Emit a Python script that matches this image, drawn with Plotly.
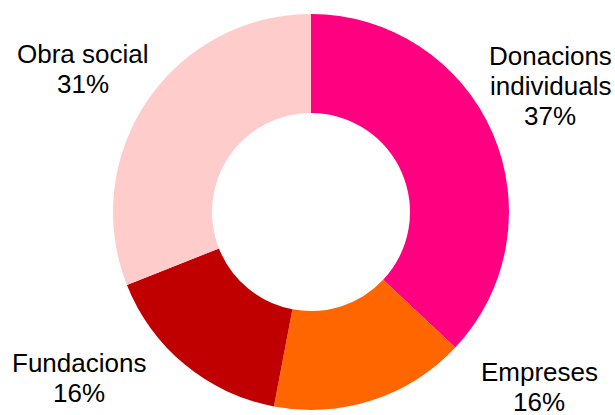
import plotly.graph_objects as go

# Data
labels = ["Donacions individuals", "Empreses", "Fundacions", "Obra social"]
label_lines = [["Donacions", "individuals"], ["Empreses"], ["Fundacions"], ["Obra social"]]
values = [37, 16, 16, 31]
colors = ["#FF0080", "#FF6600", "#C00000", "#FFCCCC"]

W, H = 615, 415


def px(x):
    return x / W


def py(y):
    return 1 - y / H


# center of first text line of each label (pixels) and line step
label_pos = [(550, 56), (539, 372), (79, 363), (83, 54)]
step = 30

fig = go.Figure()

cx, cy, r = 311, 212, 198
fig.add_trace(go.Pie(
    labels=labels,
    values=values,
    hole=0.5,
    sort=False,
    direction="clockwise",
    rotation=0,
    marker=dict(colors=colors, line=dict(width=0)),
    textinfo="none",
    hoverinfo="label+percent",
    showlegend=False,
    domain=dict(x=[px(cx - r), px(cx + r)], y=[py(cy + r), py(cy - r)]),
))

font = dict(family="Liberation Sans, Arial", size=26, color="#000000")
for lines, val, (lx, ly) in zip(label_lines, values, label_pos):
    for i, t in enumerate(lines + [f"{val}%"]):
        fig.add_annotation(
            x=px(lx), y=py(ly + i * step), xref="paper", yref="paper",
            text=t, showarrow=False,
            xanchor="center", yanchor="middle",
            font=font,
        )

fig.update_layout(
    width=W, height=H,
    margin=dict(l=0, r=0, t=0, b=0),
    paper_bgcolor="white",
    plot_bgcolor="white",
)

# drop the default body margin so the 615x415 figure fills the window
fig.write_html(
    "out.html",
    config={"displayModeBar": False},
    post_script="document.body.style.margin='0';document.body.style.overflow='hidden';",
)
